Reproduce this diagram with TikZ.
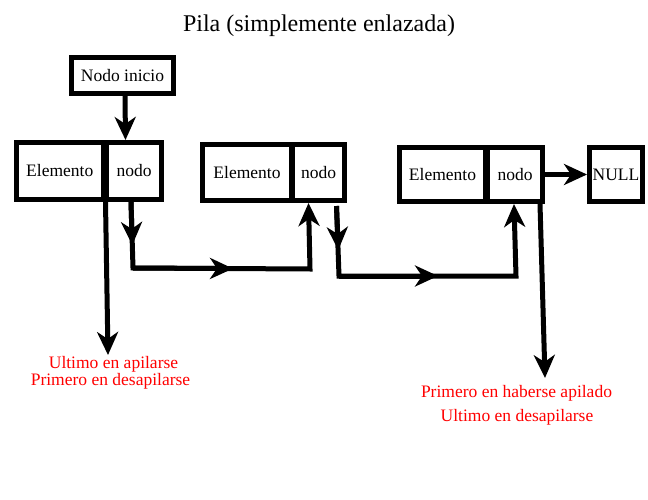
\documentclass[tikz,border=0pt]{standalone}
\usepackage{fontspec}
\setmainfont{Liberation Serif}
\usetikzlibrary{arrows.meta,calc}
\begin{document}
\begin{tikzpicture}[x=1pt,y=-1pt,line width=5pt,line join=miter,
  box/.style={draw,line width=5pt,inner sep=0pt,font=\fontsize{17.5}{20}\selectfont},
  tip/.style={-{Stealth[length=23pt,width=21pt,inset=7pt]}},
  lbl/.style={text=red,font=\fontsize{17.5}{16}\selectfont,anchor=base,inner sep=0pt}]
\useasboundingbox (0,0) rectangle (648,500);
\node[font=\fontsize{24}{28}\selectfont,anchor=base,inner sep=0pt] (title) at (319,32) {Pila (simplemente enlazada)};
% boxes
\node[box,minimum width=102pt,minimum height=36pt] (ini) at (122.5,75.5) {Nodo inicio};
\node[box,minimum width=86.5pt,minimum height=57pt] (e1) at (59.75,171) {Elemento};
\node[box,minimum width=55pt,minimum height=57pt] (p1) at (134,171) {nodo};
\node[box,minimum width=89pt,minimum height=56pt] (e2) at (247,172.5) {Elemento};
\node[box,minimum width=52pt,minimum height=56pt] (p2) at (318.5,172.5) {nodo};
\node[box,minimum width=86pt,minimum height=54pt] (e3) at (442.5,174.5) {Elemento};
\node[box,minimum width=55pt,minimum height=54pt] (p3) at (515,174.5) {nodo};
\node[box,minimum width=53pt,minimum height=54pt] (nul) at (616,174.5) {NULL};
% start arrow
\draw[tip] ([xshift=2.5pt]ini.south) -- ([xshift=-8.5pt]p1.north);
% connector 1 -> 2
\coordinate (a1) at (133,268);
\coordinate (a2) at (310,269);
\coordinate (m1) at (132.3,245);
\coordinate (m2) at (233,268.6);
\draw[tip] ([xshift=-3pt]p1.south) -- (a1) -- (a2) -- ([xshift=-10pt]p2.south);
\draw[tip] ([xshift=-3pt]p1.south) -- (m1);
\draw[tip] (a1) -- (m2);
% connector 2 -> 3
\coordinate (s2) at ($(p2.south)+(18,3)$);
\coordinate (b1) at (339,276);
\coordinate (b2) at (516,276);
\coordinate (m3) at (338.3,250);
\coordinate (m4) at (438,276);
\draw[tip] (s2) -- (b1) -- (b2) -- ([xshift=-1pt]p3.south);
\draw[tip] (s2) -- (m3);
\draw[tip] (b1) -- (m4);
% to NULL
\draw[tip] (p3.east) -- (nul.west);
% long pointers
\coordinate (t1) at (108,355);
\coordinate (t2) at (545,378);
\draw[tip] (e1.south east) -- (t1);
\draw[tip] ([xshift=25pt]p3.south) -- (t2);
% labels
\node[lbl] (l1a) at (113.5,368) {Ultimo en apilarse};
\node[lbl] (l1b) at (110.5,385) {Primero en desapilarse};
\node[lbl] (l2a) at (516.5,397) {Primero en haberse apilado};
\node[lbl] (l2b) at (517,421) {Ultimo en desapilarse};
\end{tikzpicture}
\end{document}
